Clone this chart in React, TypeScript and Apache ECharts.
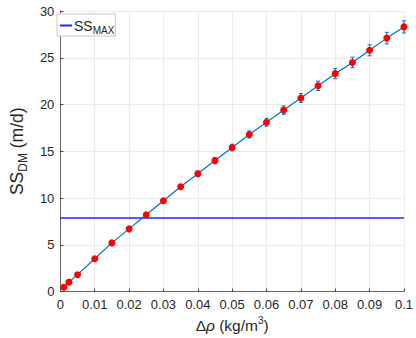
import React, { useEffect, useRef } from "react";
import * as echarts from "echarts";

const deltaRho = [0.001, 0.0025, 0.005, 0.01, 0.015, 0.02, 0.025, 0.03, 0.035, 0.04, 0.045, 0.05, 0.055, 0.06, 0.065, 0.07, 0.075, 0.08, 0.085, 0.09, 0.095, 0.1];
const ssDM = [0.45, 1.0, 1.8, 3.5, 5.2, 6.7, 8.2, 9.7, 11.2, 12.6, 14.0, 15.4, 16.8, 18.1, 19.4, 20.7, 22.0, 23.3, 24.5, 25.8, 27.1, 28.3];
const ssErr = [0.01, 0.02, 0.04, 0.08, 0.12, 0.15, 0.19, 0.22, 0.26, 0.29, 0.32, 0.35, 0.38, 0.42, 0.45, 0.48, 0.5, 0.54, 0.56, 0.59, 0.62, 0.65];
const ssMax = 7.85;
const xRange = [0, 0.1];
const yRange = [0, 30];

const FONT = "'Liberation Sans', Arial, Helvetica, sans-serif";
const TXT = "#262626";

export default function App() {
  const ref = useRef<HTMLDivElement>(null);
  useEffect(() => {
    document.body.style.margin = "0";
    if (!ref.current) return;
    const chart = echarts.init(ref.current, null, { renderer: "svg" });
    const points = deltaRho.map((x, i) => [x, ssDM[i]]);
    const errData = deltaRho.map((x, i) => [x, ssDM[i] - ssErr[i], ssDM[i] + ssErr[i]]);
    chart.setOption({
      animation: false,
      textStyle: { fontFamily: FONT },
      grid: { left: 54, right: 10, top: 11, bottom: 45 },
      legend: {
        left: 57,
        top: 14,
        padding: [2, 1, 1, 3],
        backgroundColor: "#fff",
        borderColor: "#c8c8c8",
        borderWidth: 1,
        borderRadius: 0,
        itemWidth: 12,
        itemHeight: 2,
        itemGap: 4,
        data: [{ name: "SSMAX", icon: "rect" }],
        formatter: () => "{a|SS}{s|MAX}",
        textStyle: {
          padding: [0, 0, 0, -3],
          rich: {
            a: { fontSize: 14, color: TXT, fontFamily: FONT, lineHeight: 20, verticalAlign: "middle" },
            s: { fontSize: 10, color: TXT, fontFamily: FONT, lineHeight: 20, padding: [9, 0, 0, 0], verticalAlign: "middle" },
          },
        },
      },
      xAxis: {
        type: "value",
        min: xRange[0],
        max: xRange[1],
        interval: 0.01,
        name: "{d|Δ}{r|ρ}{n| (kg/m}{p|3}{n|)}",
        nameLocation: "middle",
        nameGap: 24,
        nameTextStyle: {
          rich: {
            d: { fontSize: 15.5, color: TXT, fontFamily: FONT },
            r: { fontSize: 15.5, color: TXT, fontFamily: FONT, fontStyle: "italic" },
            n: { fontSize: 15.5, color: TXT, fontFamily: FONT },
            p: { fontSize: 10, color: TXT, fontFamily: FONT, padding: [0, 0, 9, 0] },
          },
        },
        axisLine: { show: true, lineStyle: { color: "#404040", width: 0.8 } },
        axisTick: { show: true, inside: true, length: 3, lineStyle: { color: "#404040" } },
        axisLabel: { fontSize: 13, color: TXT, margin: 6, fontFamily: FONT },
        splitLine: { show: true, lineStyle: { color: "#ebebeb", width: 1 } },
      },
      yAxis: {
        type: "value",
        min: yRange[0],
        max: yRange[1],
        interval: 5,
        name: "{a|SS}{s|DM}{a| (m/d)}",
        nameLocation: "middle",
        nameRotate: 90,
        nameGap: 22,
        nameTextStyle: {
          rich: {
            a: { fontSize: 17.5, color: TXT, fontFamily: FONT },
            s: { fontSize: 12, color: TXT, fontFamily: FONT, padding: [12, 0, 0, 0] },
          },
        },
        axisLine: { show: true, lineStyle: { color: "#404040", width: 0.8 } },
        axisTick: { show: true, inside: true, length: 3, lineStyle: { color: "#404040" } },
        axisLabel: { fontSize: 13, color: TXT, margin: 6, fontFamily: FONT },
        splitLine: { show: true, lineStyle: { color: "#ebebeb", width: 1 } },
      },
      series: [
        {
          name: "SSMAX",
          type: "line",
          data: [[xRange[0], ssMax], [xRange[1], ssMax]],
          symbol: "none",
          lineStyle: { color: "#2323ff", width: 1.5 },
          itemStyle: { color: "#2323ff" },
          z: 2,
        },
        {
          name: "errors",
          type: "custom",
          data: errData,
          z: 3,
          renderItem: (params: any, api: any) => {
            const x = api.value(0);
            const lo = api.coord([x, api.value(1)]);
            const hi = api.coord([x, api.value(2)]);
            const w = 2;
            const st = { stroke: "#0072BD", lineWidth: 1 };
            return {
              type: "group",
              children: [
                { type: "line", shape: { x1: lo[0], y1: lo[1], x2: hi[0], y2: hi[1] }, style: st },
                { type: "line", shape: { x1: lo[0] - w, y1: lo[1], x2: lo[0] + w, y2: lo[1] }, style: st },
                { type: "line", shape: { x1: hi[0] - w, y1: hi[1], x2: hi[0] + w, y2: hi[1] }, style: st },
              ],
            };
          },
        },
        {
          name: "SSDM",
          type: "line",
          data: points,
          symbol: "circle",
          symbolSize: 7,
          showSymbol: true,
          lineStyle: { color: "#0072BD", width: 1.2 },
          itemStyle: { color: "#ff0000", borderWidth: 0 },
          z: 4,
        },
      ],
    });
    return () => chart.dispose();
  }, []);
  return <div ref={ref} style={{ width: 416, height: 338 }} />;
}
